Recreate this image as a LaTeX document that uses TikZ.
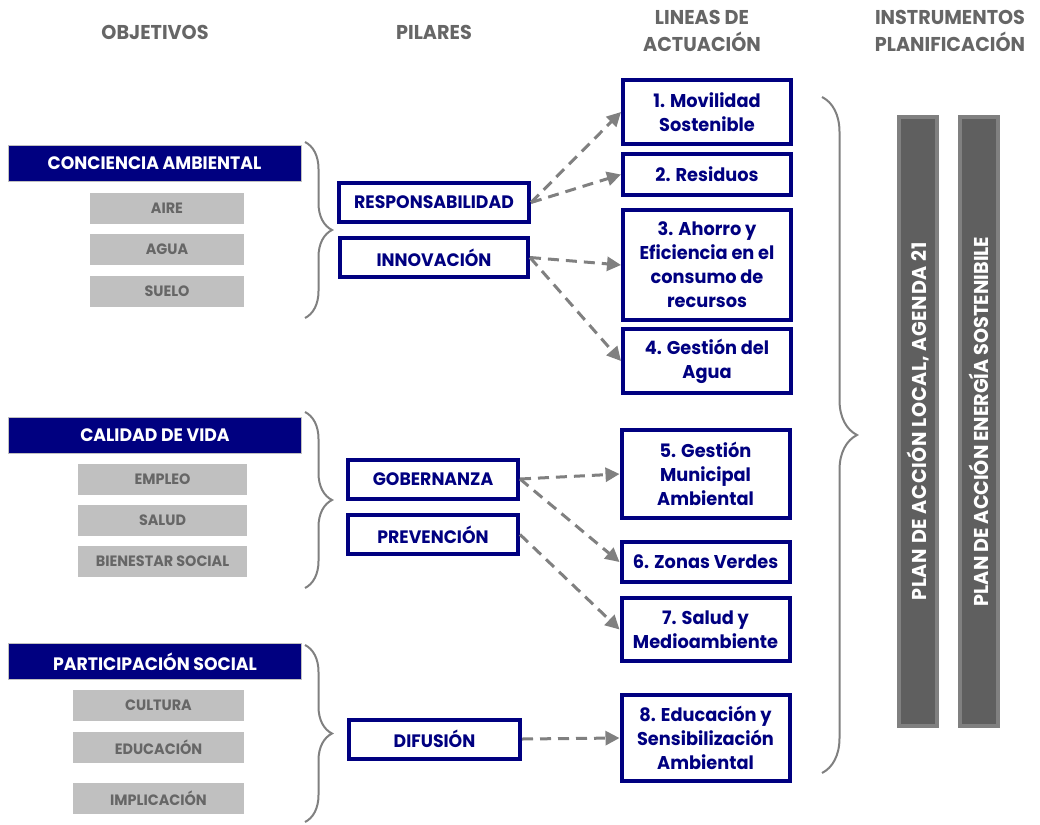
\documentclass[tikz,border=0pt]{standalone}
\usepackage{fontspec}
\setmainfont{Poppins}[FakeStretch=0.96]
\usetikzlibrary{arrows.meta,decorations.pathreplacing}

\definecolor{azul}{RGB}{0,0,128}
\definecolor{grisclaro}{RGB}{192,192,192}
\definecolor{gristexto}{RGB}{102,102,102}
\definecolor{grisflecha}{RGB}{128,128,128}
\definecolor{grisbarra}{RGB}{95,95,95}

\tikzset{
  titulo/.style={align=center,text=gristexto,font=\bfseries\fontsize{20}{27}\selectfont},
  objetivo/.style={fill=azul,draw=grisclaro,line width=1pt,text=white,inner sep=0pt,
    minimum width=293pt,minimum height=36pt,font=\bfseries\fontsize{18}{20}\selectfont},
  tema/.style={fill=grisclaro,text=gristexto,inner sep=0pt,minimum height=31pt,
    font=\bfseries\fontsize{15}{17}\selectfont},
  pilar/.style={draw=azul,line width=4pt,fill=white,text=azul,inner sep=0pt,
    minimum height=39pt,font=\bfseries\fontsize{18}{20}\selectfont},
  linea/.style={draw=azul,line width=4pt,fill=white,text=azul,inner sep=0pt,align=center,
    minimum width=168pt,font=\bfseries\fontsize{18.5}{24}\selectfont},
  barra/.style={draw=grisflecha,fill=grisbarra,line width=4pt,text=white,rotate=90,inner sep=0pt,
    minimum width=609pt,minimum height=38pt,font=\bfseries\fontsize{20}{22}\selectfont},
  flecha/.style={draw=grisflecha,line width=3pt,dash pattern=on 11pt off 7pt,
    -{Triangle[length=14pt,width=14pt]}},
  llave/.style={draw=grisflecha,line width=2pt,decorate,decoration={brace,amplitude=#1}}
}

\begin{document}
\begin{tikzpicture}[x=1pt,y=-1pt]
    \useasboundingbox (0,0) rectangle (1040,824);

    \node (tobj) [titulo] at (155,32) {OBJETIVOS};
    \node (tpil) [titulo] at (434,32) {PILARES};
    \node (tlin) [titulo] at (702,31) {LINEAS DE\\ACTUACIÓN};
    \node (tins) [titulo] at (950,31) {INSTRUMENTOS\\PLANIFICACIÓN};

    \node (conc) [objetivo] at (154.5,163.5) {CONCIENCIA AMBIENTAL};
    \node (aire) [tema,minimum width=154pt] at (167,208) {AIRE};
    \node (agua) [tema,minimum width=154pt] at (167,249.5) {AGUA};
    \node (suelo) [tema,minimum width=154pt] at (167,291.5) {SUELO};
    \draw [llave=27pt] (305,142) -- (305,318);

    \node (cal) [objetivo] at (155,435) {CALIDAD DE VIDA};
    \node (empleo) [tema,minimum width=169pt] at (162.5,479) {EMPLEO};
    \node (salud) [tema,minimum width=169pt] at (162.5,520.5) {SALUD};
    \node (bien) [tema,minimum width=169pt] at (162.5,561.5) {BIENESTAR SOCIAL};
    \draw [llave=27pt] (305,412) -- (305,588);

    \node (part) [objetivo] at (155,661.5) {PARTICIPACIÓN SOCIAL};
    \node (cult) [tema,minimum width=171pt] at (158.5,705.5) {CULTURA};
    \node (edu) [tema,minimum width=171pt] at (158.5,747.5) {EDUCACIÓN};
    \node (impl) [tema,minimum width=171pt] at (158.5,798.5) {IMPLICACIÓN};
    \draw [llave=27pt] (305,645) -- (305,822);

    \node (resp) [pilar,minimum width=190pt] at (434,202.5) {RESPONSABILIDAD};
    \node (innov) [pilar,minimum width=188pt] at (434,257.5) {INNOVACIÓN};
    \node (gob) [pilar,minimum width=170pt] at (433,479) {GOBERNANZA};
    \node (prev) [pilar,minimum width=170pt] at (433,534.5) {PREVENCIÓN};
    \node (dif) [pilar,minimum width=171pt] at (434.5,739) {DIFUSIÓN};

    \node (l1) [linea,minimum height=64pt] at (707,112) {1. Movilidad\\Sostenible};
    \node (l2) [linea,minimum height=41pt] at (707,174.5) {2. Residuos};
    \node (l3) [linea,minimum height=110pt] at (707,265) {3. Ahorro y\\Eficiencia en el\\consumo de\\recursos};
    \node (l4) [linea,minimum height=64pt] at (707,361) {4. Gestión del\\Agua};
    \node (l5) [linea,minimum height=88pt] at (705.5,474) {5. Gestión\\Municipal\\Ambiental};
    \node (l6) [linea,minimum height=40pt] at (705.5,562) {6. Zonas Verdes};
    \node (l7) [linea,minimum height=63pt] at (705.5,629.5) {7. Salud y\\Medioambiente};
    \node (l8) [linea,minimum height=86pt] at (705.5,738) {8. Educación y\\Sensibilización\\Ambiental};

    \draw [flecha] (resp.east) -- (l1.west);
    \draw [flecha] (resp.east) -- (l2.west);
    \draw [flecha] (innov.east) -- (l3.west);
    \draw [flecha] (innov.east) -- (l4.west);
    \draw [flecha] (gob.east) -- (l5.west);
    \draw [flecha] (gob.east) -- (l6.west);
    \draw [flecha] (prev.east) -- (l7.west);
    \draw [flecha] (dif.east) -- (l8.west);

    \draw [llave=35pt] (822,97) -- (822,773);

    \node (pal) [barra] at (918,421.5) {\addfontfeatures{LetterSpace=3.5}PLAN DE ACCIÓN LOCAL, AGENDA 21};
    \node (paes) [barra] at (978.5,421.5) {PLAN DE ACCIÓN ENERGÍA SOSTENIBILE};
\end{tikzpicture}
\end{document}
